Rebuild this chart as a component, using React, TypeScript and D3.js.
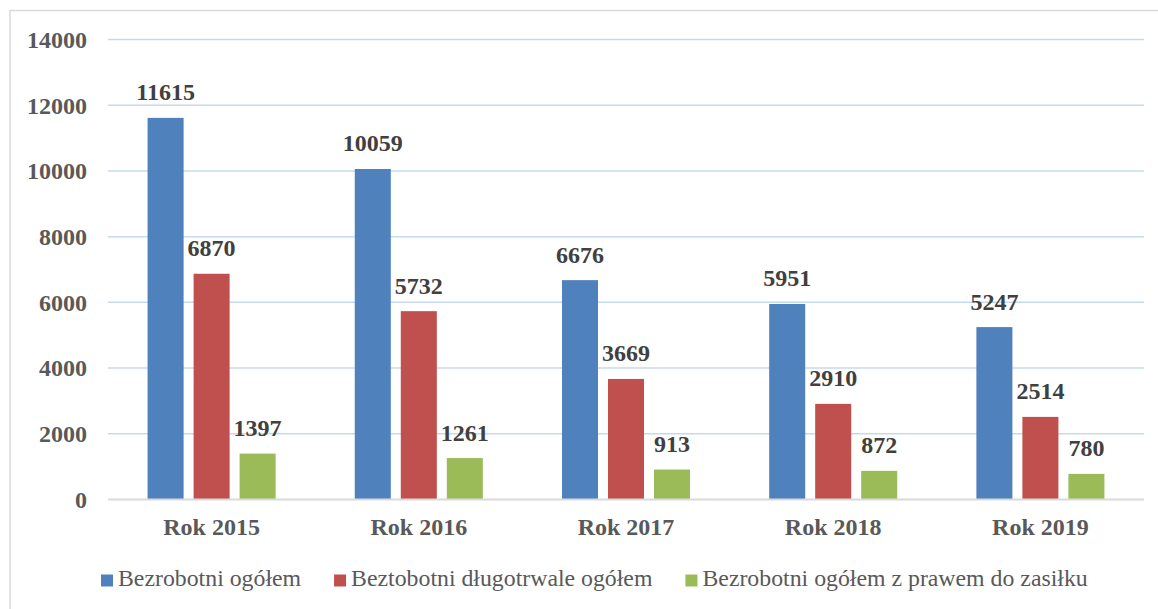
import React, { useEffect, useRef } from "react";
import * as d3 from "d3";

const years = ["Rok 2015", "Rok 2016", "Rok 2017", "Rok 2018", "Rok 2019"];
const seriesNames = [
  "Bezrobotni ogółem",
  "Beztobotni długotrwale ogółem",
  "Bezrobotni ogółem z prawem do zasiłku",
];
const ogolem = [11615, 10059, 6676, 5951, 5247];
const dlugotrwale = [6870, 5732, 3669, 2910, 2514];
const zZasilkiem = [1397, 1261, 913, 872, 780];
const colors = ["#4f81bd", "#c0504d", "#9bbb59"];
const yTicks = [0, 2000, 4000, 6000, 8000, 10000, 12000, 14000];

export default function App() {
  const svgRef = useRef<SVGSVGElement>(null);

  useEffect(() => {
    const width = 1158;
    const height = 609;
    const margin = { left: 108, right: 14, top: 39.5, bottom: 109.5 };
    const font = "'Liberation Serif', 'Times New Roman', serif";
    const values = [ogolem, dlugotrwale, zZasilkiem];

    const svg = d3
      .select(svgRef.current)
      .attr("width", width)
      .attr("height", height)
      .style("background-color", "white");
    svg.selectAll("*").remove();

    // outer frame (cut by the picture on right/bottom)
    svg
      .append("rect")
      .attr("x", 10)
      .attr("y", 10.5)
      .attr("width", 1400)
      .attr("height", 900)
      .attr("fill", "none")
      .attr("stroke", "#d9d9d9")
      .attr("stroke-width", 1.5);

    const x0 = d3
      .scaleBand()
      .domain(years)
      .range([margin.left, width - margin.right])
      .paddingInner(0.382)
      .paddingOuter(0.191);
    const x1 = d3
      .scaleBand()
      .domain(seriesNames)
      .range([0, x0.bandwidth()])
      .paddingInner(0.217);
    const y = d3
      .scaleLinear()
      .domain([0, 14000])
      .range([height - margin.bottom, margin.top]);

    // gridlines
    svg
      .append("g")
      .selectAll("line")
      .data(yTicks.filter((t) => t > 0))
      .join("line")
      .attr("x1", margin.left)
      .attr("x2", width - margin.right)
      .attr("y1", (d) => y(d))
      .attr("y2", (d) => y(d))
      .attr("stroke", "#c6d9f0")
      .attr("stroke-width", 1.5);

    // tick labels
    svg
      .append("g")
      .selectAll("text")
      .data(yTicks)
      .join("text")
      .text((d) => `${d}`)
      .attr("x", 87)
      .attr("y", (d) => y(d))
      .attr("dy", "0.35em")
      .attr("text-anchor", "end")
      .attr("fill", "#595959")
      .style("font-family", font)
      .style("font-weight", "bold")
      .style("font-size", "24px");

    // bars + labels
    values.forEach((series, s) => {
      const g = svg.append("g");
      g.selectAll("rect")
        .data(series)
        .join("rect")
        .attr("x", (d, i) => x0(years[i])! + x1(seriesNames[s])!)
        .attr("y", (d) => y(d))
        .attr("width", x1.bandwidth())
        .attr("height", (d) => y(0) - y(d))
        .attr("fill", colors[s]);
      g.selectAll("text")
        .data(series)
        .join("text")
        .text((d) => `${d}`)
        .attr(
          "x",
          (d, i) => x0(years[i])! + x1(seriesNames[s])! + x1.bandwidth() / 2
        )
        .attr("y", (d) => y(d) - 17.5)
        .attr("text-anchor", "middle")
        .attr("fill", "#404040")
        .style("font-family", font)
        .style("font-weight", "bold")
        .style("font-size", "24px");
    });

    // axis line
    svg
      .append("line")
      .attr("x1", margin.left)
      .attr("x2", width - margin.right)
      .attr("y1", y(0))
      .attr("y2", y(0))
      .attr("stroke", "#d9d9d9")
      .attr("stroke-width", 2);

    // category labels
    svg
      .append("g")
      .selectAll("text")
      .data(years)
      .join("text")
      .text((d) => d)
      .attr("x", (d) => x0(d)! + x0.bandwidth() / 2)
      .attr("y", 535)
      .attr("text-anchor", "middle")
      .attr("fill", "#595959")
      .style("font-family", font)
      .style("font-weight", "bold")
      .style("font-size", "24px");

    // legend
    const legend = svg.append("g");
    let lx = 101;
    seriesNames.forEach((name, i) => {
      legend
        .append("rect")
        .attr("x", lx)
        .attr("y", 574.5)
        .attr("width", 12)
        .attr("height", 12)
        .attr("fill", colors[i]);
      const t = legend
        .append("text")
        .text(name)
        .attr("x", lx + 17)
        .attr("y", 586)
        .attr("fill", "#595959")
        .style("font-family", font)
        .style("font-size", "23.8px");
      const w = (t.node() as SVGTextElement).getComputedTextLength();
      lx = lx + 17 + w + 33;
    });
  }, []);

  return (
    <div>
      <svg
        ref={svgRef}
        style={{ position: "absolute", left: 0, top: 0, display: "block" }}
      ></svg>
    </div>
  );
}
